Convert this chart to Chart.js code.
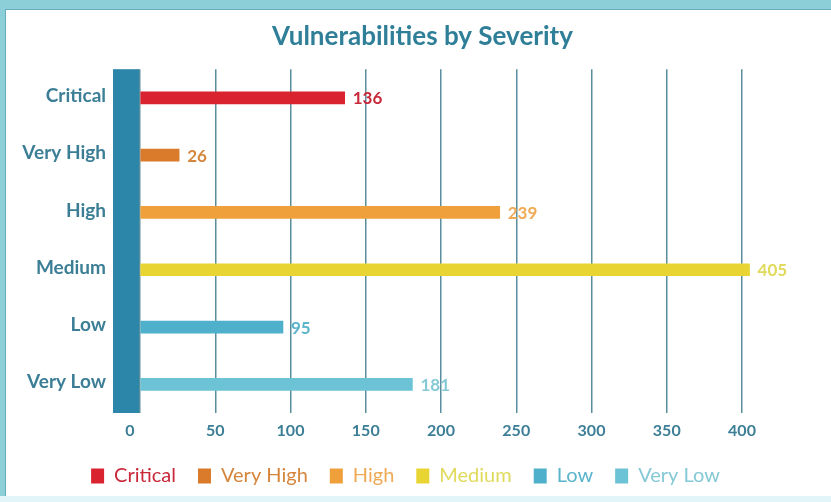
<!DOCTYPE html>
<html>
<head>
<meta charset="utf-8">
<script src="https://cdn.jsdelivr.net/npm/chart.js@4"></script>
<style>
  html, body { margin: 0; padding: 0; }
  body { width: 831px; height: 502px; background: #8ccfd9; position: relative; overflow: hidden; }
  #panel { position: absolute; left: 5px; top: 9px; right: 0; bottom: 6px; background: #fff;
           border-left: 1px solid #66aebd; border-top: 1px solid #66aebd; }
  #bottomband { position: absolute; left: 0; right: 0; bottom: 0; height: 6px; background: #e2f5f8; }
  #chart { position: absolute; left: 0; top: 0; }
</style>
</head>
<body>
<div id="panel"></div>
<div id="bottomband"></div>
<canvas id="chart" width="831" height="502"></canvas>
<script>
// DATA
const severities = ["Critical", "Very High", "High", "Medium", "Low", "Very Low"];
const counts = [136, 26, 239, 405, 95, 181];
const xTicks = [0, 50, 100, 150, 200, 250, 300, 350, 400];

// COLOURS
const barColors = ["#d9232e", "#d97b2b", "#f0a03a", "#e8d534", "#4fb0cb", "#6cc3d5"];
const textColors = ["#c8283a", "#d5863c", "#eeaa55", "#e0da5c", "#5ab4ca", "#85c9d6"];
const teal = "#3b7e96";

// thick bar left of the zero line
const axisBlock = {
  id: "axisBlock",
  afterLayout(chart) {
    // legend sits a bit left of the title in the original
    chart.legend.left -= 17;
    chart.legend.right -= 17;
  },
  beforeDatasetsDraw(chart) {
    const a = chart.chartArea;
    const c = chart.ctx;
    c.save();
    c.fillStyle = "#2b86a9";
    c.fillRect(a.left - 27, a.top, 26, a.bottom - a.top);
    c.restore();
  }
};

// value labels at the bar ends
const valueLabels = {
  id: "valueLabels",
  afterDatasetsDraw(chart) {
    const c = chart.ctx;
    const meta = chart.getDatasetMeta(0);
    c.save();
    c.font = "bold 17px Lato";
    c.textBaseline = "middle";
    c.textAlign = "left";
    meta.data.forEach((bar, i) => {
      c.fillStyle = textColors[i];
      c.fillText(counts[i], bar.x + 8, bar.y + 1);
    });
    c.restore();
  }
};

new Chart(document.getElementById("chart"), {
  type: "bar",
  data: {
    labels: severities,
    datasets: [{
      data: counts,
      backgroundColor: barColors,
      barThickness: 12,
      clip: false
    }]
  },
  options: {
    indexAxis: "y",
    responsive: false,
    animation: false,
    layout: { padding: { left: 14, right: 0, top: 0, bottom: 6 } },
    plugins: {
      title: {
        display: true,
        text: "Vulnerabilities by Severity",
        color: "#2f7f98",
        font: { family: "Lato", size: 26, weight: "bold" },
        padding: { top: 21, bottom: 17 }
      },
      legend: {
        position: "bottom",
        labels: {
          boxWidth: 13,
          boxHeight: 15,
          padding: 22,
          font: { family: "Lato", size: 20 },
          generateLabels: () => severities.map((s, i) => ({
            text: s,
            fillStyle: barColors[i],
            strokeStyle: barColors[i],
            lineWidth: 0,
            fontColor: textColors[i],
            index: i
          }))
        }
      },
      tooltip: { enabled: false }
    },
    scales: {
      x: {
        min: 0,
        max: 400,
        afterBuildTicks: (s) => { s.ticks = xTicks.map(v => ({ value: v })); },
        afterFit: (s) => { s.height = 31; },
        grid: { color: "#5a8e9e", lineWidth: 1.5, drawTicks: false },
        border: { display: false },
        ticks: {
          color: teal, padding: 8, maxRotation: 0,
          font: { family: "Lato", size: 16, weight: "bold" },
          // the zero label sits under the thick axis block
          callback: (v) => v === 0 ? "0\u2003\u2002" : String(v)
        }
      },
      y: {
        afterFit: (s) => { s.width = 126; },
        grid: { display: false, drawTicks: false },
        border: { display: false },
        ticks: { color: teal, padding: 34, labelOffset: -2, font: { family: "Lato", size: 19, weight: "bold" } }
      },
      spare: {
        type: "linear",
        position: "right",
        afterFit: (s) => { s.width = 89; },
        grid: { display: false, drawTicks: false },
        border: { display: false },
        ticks: { display: false }
      }
    }
  },
  plugins: [axisBlock, valueLabels]
});
</script>
</body>
</html>
